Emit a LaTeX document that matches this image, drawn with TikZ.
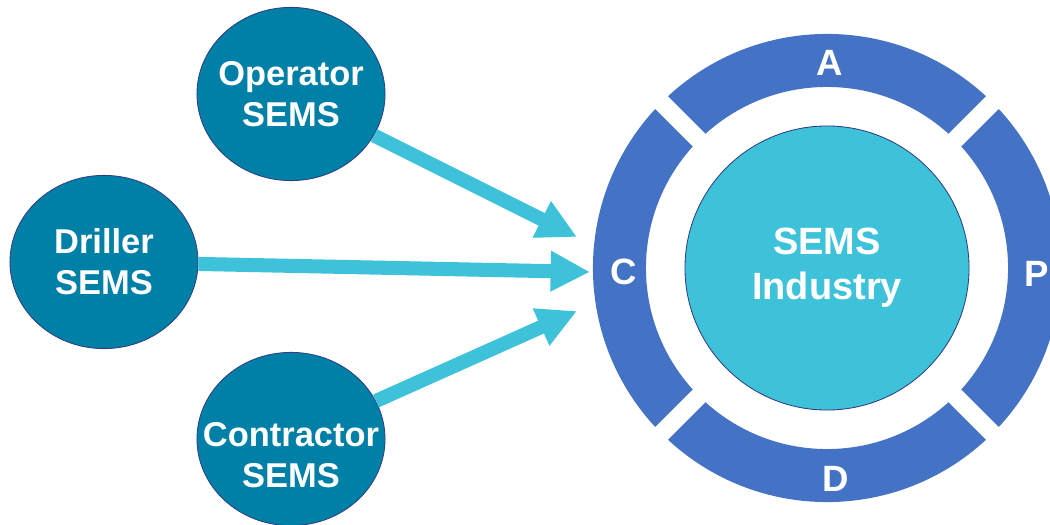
\documentclass[tikz,border=0pt]{standalone}
\usepackage{fontspec}
\setmainfont{Liberation Sans}
\usepackage{xcolor}
\usepackage{tikz}
\usetikzlibrary{shapes.geometric,arrows.meta,calc}

\definecolor{semsteal}{RGB}{0,128,166}
\definecolor{semscyan}{RGB}{62,194,218}
\definecolor{ringblue}{RGB}{68,114,196}
\definecolor{rimline}{RGB}{47,62,130}

\begin{document}
\begin{tikzpicture}[x=0.025cm,y=-0.025cm]
  \tikzstyle{party text}=[inner sep=0pt,text=white,font=\fontsize{24.5}{29}\selectfont\bfseries,align=center]
  \tikzstyle{party}=[party text,ellipse,draw=rimline,line width=0.6pt,fill=semsteal,minimum width=4.7cm,minimum height=4.33cm,inner xsep=-32pt,inner ysep=0pt]
  \tikzstyle{hub}=[circle,draw=rimline,line width=0.6pt,fill=semscyan,minimum size=7.1cm,inner sep=0pt,text=white,font=\fontsize{27}{32}\selectfont\bfseries,align=center]
  \tikzstyle{letter}=[inner sep=0pt,text=white,font=\fontsize{26}{30}\selectfont\bfseries]
  \tikzstyle{flow}=[draw=semscyan,line width=10pt,-{Triangle[length=28pt,width=27pt]}]
  \tikzstyle{gap}=[white,line width=12.8pt]

  \useasboundingbox (0,0) rectangle (1050,525);
  \clip (0,0) rectangle (1050,525);

    \node[party] (op) at (291,94) {Operator\\SEMS};
    \node[party] (dr) at (104,262) {Driller\\SEMS};
    \node[party,label={[party text,yshift=-0.4cm]center:Contractor\\SEMS}] (co) at (291,439) {};

    \coordinate (ctr) at (827,268);
    \fill[ringblue,even odd rule] (ctr) circle (5.85cm) (ctr) circle (4.525cm);
    \draw[gap] ($(ctr)+(45:6cm)$) -- ($(ctr)+(225:6cm)$);
    \draw[gap] ($(ctr)+(135:6cm)$) -- ($(ctr)+(-45:6cm)$);

    \node[hub] (ind) at (ctr) {SEMS\\Industry};

    \node[letter] (la) at (830,63) {A};
    \node[letter] (lc) at (624,272) {C};
    \node[letter] (lp) at (1037,274) {P};
    \node[letter] (ld) at (836,479) {D};

    \coordinate (tipa) at (577,237);
    \coordinate (tipb) at (590,272);
    \coordinate (tipc) at (577,311);

    \draw[flow] (op) -- (tipa);
    \draw[flow] (dr) -- (tipb);
    \draw[flow] (co) -- (tipc);
\end{tikzpicture}
\end{document}
